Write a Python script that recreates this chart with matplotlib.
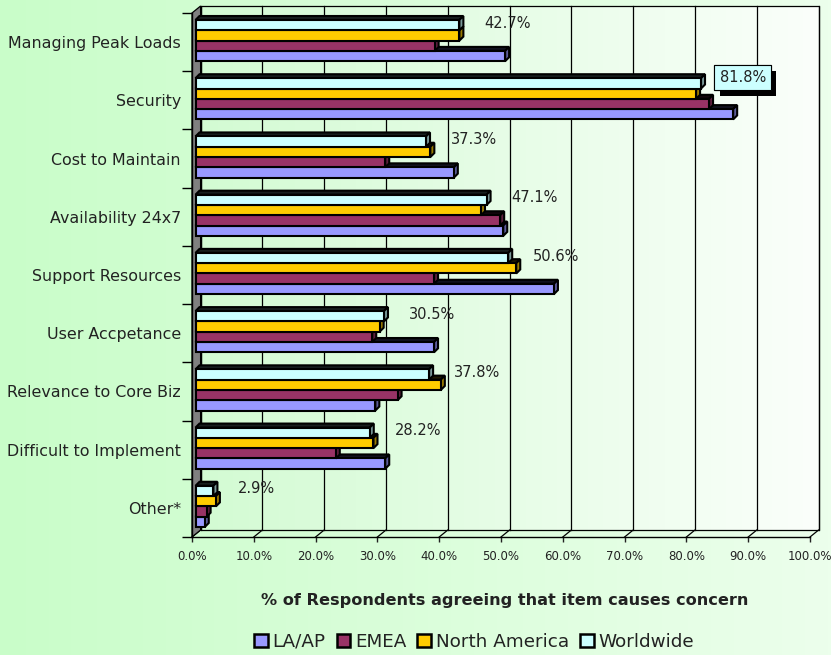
import numpy as np
import matplotlib.pyplot as plt
import matplotlib.patheffects as pe
from matplotlib.colors import to_rgb
from matplotlib.patches import Polygon, Rectangle, Patch

# === Data ===
categories = ["Managing Peak Loads", "Security", "Cost to Maintain", "Availability 24x7",
              "Support Resources", "User Accpetance", "Relevance to Core Biz",
              "Difficult to Implement", "Other*"]
la_ap = [50.1, 87.0, 41.8, 49.8, 58.0, 38.6, 29.1, 30.7, 1.5]
emea = [38.7, 83.1, 30.7, 49.3, 38.6, 28.6, 32.7, 22.7, 1.8]
north_america = [42.7, 81.0, 38.0, 46.2, 51.9, 29.8, 39.7, 28.8, 3.3]
worldwide = [42.7, 81.8, 37.3, 47.1, 50.6, 30.5, 37.8, 28.2, 2.9]
series_names = ["LA/AP", "EMEA", "North America", "Worldwide"]
series_colors = ["#9999ff", "#993366", "#ffcc00", "#ccffff"]
x_ticks = np.arange(0, 101, 10)

series = [la_ap, emea, north_america, worldwide]

# === Figure / layout (pixel based) ===
W, H = 831, 655
fig = plt.figure(figsize=(W / 100, H / 100), dpi=100)
plt.rcParams['font.family'] = ['DejaVu Sans']


def gradient(c0, c1, n=256):
    a, b = np.array(to_rgb(c0)), np.array(to_rgb(c1))
    t = np.linspace(0, 1, n)[:, None]
    return (a + (b - a) * t)[None, :, :]


bg = fig.add_axes([0, 0, 1, 1], zorder=-5)
bg.imshow(gradient("#c9fdc9", "#ecffec"), aspect='auto', extent=(0, 1, 0, 1))
bg.axis('off')

ax = fig.add_axes([192 / W, 1 - 537 / H, 618 / W, 524 / H])
ax.set_facecolor('none')
n = len(categories)

px_x = 100 / 618
px_y = n / 524
DX, DY = 8.6 * px_x, 7 * px_y          # wall depth
BAR_X0 = 3.5 * px_x                     # bars sit a bit behind the front plane
BDX, BDY = 4 * px_x, 4 * px_y           # bar depth
bar_h = 10.3 * px_y
top_gap = 7 * px_y

# back wall
ax.imshow(gradient("#d3fbd3", "#fbfffb"), aspect='auto',
          extent=(DX, 100 + DX, DY, n + DY), zorder=0, clip_on=False)
ax.add_patch(Rectangle((DX, DY), 100, n, fill=False, ec='black', lw=0.9,
                       zorder=1, clip_on=False))
for t in x_ticks:
    ax.plot([t + DX, t + DX], [DY, n + DY], color='black', lw=0.9, zorder=1, clip_on=False)
    ax.plot([t, t + DX], [0, DY], color='black', lw=0.9, zorder=1, clip_on=False)

# left wall
ax.add_patch(Polygon([(0, 0), (0, n), (DX, n + DY), (DX, DY)], closed=True,
                     fc='#808080', ec='black', lw=0.9, zorder=2, clip_on=False))

# === Bars ===
def shade(c, f):
    return tuple(v * f for v in to_rgb(c))


LW = 1.5
for k, (vals, col) in enumerate(zip(series, series_colors)):
    j = 3 - k  # position from the top of the group
    tops = np.array([n - i - top_gap - j * bar_h for i in range(n)])
    centers = tops - bar_h / 2
    z = 3 + 2 * k
    for yt, v in zip(tops, vals):
        x1 = BAR_X0 + v
        yb = yt - bar_h
        ax.add_patch(Polygon([(BAR_X0, yt), (x1, yt), (x1 + BDX, yt + BDY), (BAR_X0 + BDX, yt + BDY)],
                             closed=True, fc=shade(col, 0.12), ec='black', lw=LW, zorder=z))
        ax.add_patch(Polygon([(x1, yb), (x1 + BDX, yb + BDY), (x1 + BDX, yt + BDY), (x1, yt)],
                             closed=True, fc=shade(col, 0.6), ec='black', lw=LW, zorder=z))
    ax.barh(centers, vals, height=bar_h, left=BAR_X0, color=col, edgecolor='black',
            lw=LW, zorder=z + 1)

# value labels for Worldwide
ww_centers = [n - i - top_gap - bar_h / 2 for i in range(n)]
highlight = int(np.argmax(worldwide))
for i, (yc, v) in enumerate(zip(ww_centers, worldwide)):
    if i == highlight:
        t = ax.text(BAR_X0 + v + 3.0, yc + 6 * px_y, f"{v:.1f}%", ha='left', va='center',
                    fontsize=10.5, color='#222222', zorder=20,
                    bbox=dict(boxstyle='square,pad=0.35', fc='#ccffff', ec='black', lw=0.8))
        t.get_bbox_patch().set_path_effects(
            [pe.withSimplePatchShadow(offset=(3.8, -4.5), shadow_rgbFace='black', alpha=1), pe.Normal()])
    else:
        ax.text(BAR_X0 + v + 4.0, yc + 2 * px_y, f"{v:.1f}%", ha='left', va='center',
                fontsize=10.5, color='#222222', zorder=20)

# === Axes ===
ax.set_xlim(0, 100)
ax.set_ylim(0, n)
for s in ['top', 'right']:
    ax.spines[s].set_visible(False)
ax.spines['left'].set_linewidth(1.0)
ax.spines['bottom'].set_linewidth(1.0)
ax.set_xticks(x_ticks)
ax.set_xticklabels([f"{t:.1f}%" for t in x_ticks])
ax.tick_params(axis='x', length=3.6, width=1, pad=6, labelsize=8.5, colors='#222222')
ax.set_yticks(np.arange(n + 1))
ax.set_yticklabels([])
ax.tick_params(axis='y', which='major', length=7.2, width=1)
ax.set_yticks([n - i - 0.5 for i in range(n)], labels=categories, minor=True)
ax.tick_params(axis='y', which='minor', length=0, pad=8, labelsize=11.4, labelcolor='#222222')

fig.text(505 / W, 1 - 600 / H, "% of Respondents agreeing that item causes concern",
         ha='center', va='center', fontsize=11.6, fontweight='bold', color='#222222')

handles = [Patch(facecolor=c, edgecolor='black', lw=1.8) for c in series_colors]
fig.legend(handles, series_names, loc='center', bbox_to_anchor=(474 / W, 1 - 642 / H),
           ncol=4, frameon=False, fontsize=13.2, handlelength=0.75, handleheight=0.75,
           handletextpad=0.25, columnspacing=0.6, labelcolor='#222222')

fig.savefig("out.png", dpi=100)
